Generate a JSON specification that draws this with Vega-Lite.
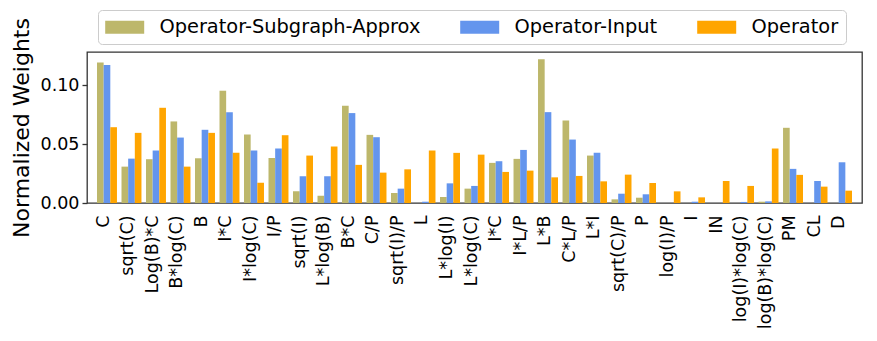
{
  "$schema": "https://vega.github.io/schema/vega-lite/v6.json",
  "width": 775,
  "height": 151,
  "autosize": {"type": "none"},
  "padding": {"left": 87, "top": 52, "right": 15, "bottom": 138},
  "background": "white",
  "config": {
    "font": "DejaVu Sans",
    "view": {"stroke": "#333333", "strokeWidth": 1.3},
    "axis": {"grid": false, "domain": false, "labelFont": "DejaVu Sans", "titleFont": "DejaVu Sans", "labelColor": "#000000", "titleColor": "#000000"}
  },
  "data": {
    "values": [
      {"i": 0, "name": "C", "Operator-Subgraph-Approx": 0.1193, "Operator-Input": 0.1173, "Operator": 0.0644},
      {"i": 1, "name": "sqrt(C)", "Operator-Subgraph-Approx": 0.0309, "Operator-Input": 0.0377, "Operator": 0.0596},
      {"i": 2, "name": "Log(B)*C", "Operator-Subgraph-Approx": 0.0372, "Operator-Input": 0.0446, "Operator": 0.0809},
      {"i": 3, "name": "B*log(C)", "Operator-Subgraph-Approx": 0.0693, "Operator-Input": 0.0556, "Operator": 0.0309},
      {"i": 4, "name": "B", "Operator-Subgraph-Approx": 0.0380, "Operator-Input": 0.0622, "Operator": 0.0596},
      {"i": 5, "name": "I*C", "Operator-Subgraph-Approx": 0.0954, "Operator-Input": 0.0772, "Operator": 0.0426},
      {"i": 6, "name": "I*log(C)", "Operator-Subgraph-Approx": 0.0582, "Operator-Input": 0.0446, "Operator": 0.0173},
      {"i": 7, "name": "I/P", "Operator-Subgraph-Approx": 0.0383, "Operator-Input": 0.0463, "Operator": 0.0576},
      {"i": 8, "name": "sqrt(I)", "Operator-Subgraph-Approx": 0.0099, "Operator-Input": 0.0227, "Operator": 0.0403},
      {"i": 9, "name": "L*log(B)", "Operator-Subgraph-Approx": 0.0062, "Operator-Input": 0.0227, "Operator": 0.0480},
      {"i": 10, "name": "B*C", "Operator-Subgraph-Approx": 0.0826, "Operator-Input": 0.0764, "Operator": 0.0324},
      {"i": 11, "name": "C/P", "Operator-Subgraph-Approx": 0.0579, "Operator-Input": 0.0559, "Operator": 0.0258},
      {"i": 12, "name": "sqrt(I)/P", "Operator-Subgraph-Approx": 0.0085, "Operator-Input": 0.0122, "Operator": 0.0286},
      {"i": 13, "name": "L", "Operator-Subgraph-Approx": 0.0, "Operator-Input": 0.0011, "Operator": 0.0446},
      {"i": 14, "name": "L*log(I)", "Operator-Subgraph-Approx": 0.0051, "Operator-Input": 0.0167, "Operator": 0.0426},
      {"i": 15, "name": "L*log(C)", "Operator-Subgraph-Approx": 0.0122, "Operator-Input": 0.0145, "Operator": 0.0411},
      {"i": 16, "name": "I*C", "Operator-Subgraph-Approx": 0.0341, "Operator-Input": 0.0355, "Operator": 0.0264},
      {"i": 17, "name": "I*L/P", "Operator-Subgraph-Approx": 0.0375, "Operator-Input": 0.0451, "Operator": 0.0275},
      {"i": 18, "name": "L*B", "Operator-Subgraph-Approx": 0.1221, "Operator-Input": 0.0772, "Operator": 0.0218},
      {"i": 19, "name": "C*L/P", "Operator-Subgraph-Approx": 0.0701, "Operator-Input": 0.0539, "Operator": 0.0230},
      {"i": 20, "name": "L*I", "Operator-Subgraph-Approx": 0.0403, "Operator-Input": 0.0428, "Operator": 0.0184},
      {"i": 21, "name": "sqrt(C)/P", "Operator-Subgraph-Approx": 0.0031, "Operator-Input": 0.0079, "Operator": 0.0241},
      {"i": 22, "name": "P", "Operator-Subgraph-Approx": 0.0045, "Operator-Input": 0.0074, "Operator": 0.0170},
      {"i": 23, "name": "log(I)/P", "Operator-Subgraph-Approx": 0.0, "Operator-Input": 0.0, "Operator": 0.0099},
      {"i": 24, "name": "I", "Operator-Subgraph-Approx": 0.0, "Operator-Input": 0.0011, "Operator": 0.0048},
      {"i": 25, "name": "IN", "Operator-Subgraph-Approx": 0.0, "Operator-Input": 0.0, "Operator": 0.0187},
      {"i": 26, "name": "log(I)*log(C)", "Operator-Subgraph-Approx": 0.0, "Operator-Input": 0.0009, "Operator": 0.0145},
      {"i": 27, "name": "log(B)*log(C)", "Operator-Subgraph-Approx": 0.0011, "Operator-Input": 0.0014, "Operator": 0.0463},
      {"i": 28, "name": "PM", "Operator-Subgraph-Approx": 0.0639, "Operator-Input": 0.0290, "Operator": 0.0239},
      {"i": 29, "name": "CL", "Operator-Subgraph-Approx": 0.0, "Operator-Input": 0.0187, "Operator": 0.0139},
      {"i": 30, "name": "D", "Operator-Subgraph-Approx": 0.0, "Operator-Input": 0.0346, "Operator": 0.0105}
    ]
  },
  "transform": [
    {"fold": ["Operator-Subgraph-Approx", "Operator-Input", "Operator"], "as": ["series", "value"]}
  ],
  "mark": {"type": "bar"},
  "encoding": {
    "x": {
      "field": "i",
      "type": "ordinal",
      "scale": {"paddingInner": 0.185, "paddingOuter": 0.408},
      "axis": {
        "title": null,
        "labelAngle": -90,
        "labelFontSize": 17.5,
        "ticks": false,
        "labelPadding": 12,
        "labelOffset": -3,
        "labelExpr": "['C','sqrt(C)','Log(B)*C','B*log(C)','B','I*C','I*log(C)','I/P','sqrt(I)','L*log(B)','B*C','C/P','sqrt(I)/P','L','L*log(I)','L*log(C)','I*C','I*L/P','L*B','C*L/P','L*I','sqrt(C)/P','P','log(I)/P','I','IN','log(I)*log(C)','log(B)*log(C)','PM','CL','D'][datum.value]"
      }
    },
    "xOffset": {
      "field": "series",
      "type": "nominal",
      "sort": ["Operator-Subgraph-Approx", "Operator-Input", "Operator"],
      "scale": {"paddingInner": 0, "paddingOuter": 0}
    },
    "y": {
      "field": "value",
      "type": "quantitative",
      "scale": {"domain": [0, 0.1283], "nice": false, "zero": true},
      "axis": {
        "title": "Normalized Weights",
        "titleFontSize": 22,
        "titleFontWeight": "normal",
        "titlePadding": 7,
        "values": [0, 0.05, 0.1],
        "format": ".2f",
        "labelFontSize": 17.5,
        "labelPadding": 3,
        "tickSize": 5,
        "tickColor": "#333333",
        "tickWidth": 1.3
      }
    },
    "color": {
      "field": "series",
      "type": "nominal",
      "scale": {
        "domain": ["Operator-Subgraph-Approx", "Operator-Input", "Operator"],
        "range": ["#BDB76B", "#6495ED", "#FFA500"]
      },
      "legend": {
        "title": null,
        "orient": "none",
        "legendX": 11,
        "legendY": -42,
        "direction": "horizontal",
        "columns": 3,
        "symbolType": "M-1,-0.684H3.105V0.684H-1Z",
        "symbolSize": 361,
        "symbolStrokeWidth": 0,
        "labelFontSize": 19.4,
        "labelFont": "DejaVu Sans",
        "labelColor": "#000000",
        "labelOffset": 35,
        "labelLimit": 500,
        "columnPadding": 39,
        "padding": 7,
        "strokeColor": "#cccccc",
        "cornerRadius": 4,
        "fillColor": "white"
      }
    }
  }
}
